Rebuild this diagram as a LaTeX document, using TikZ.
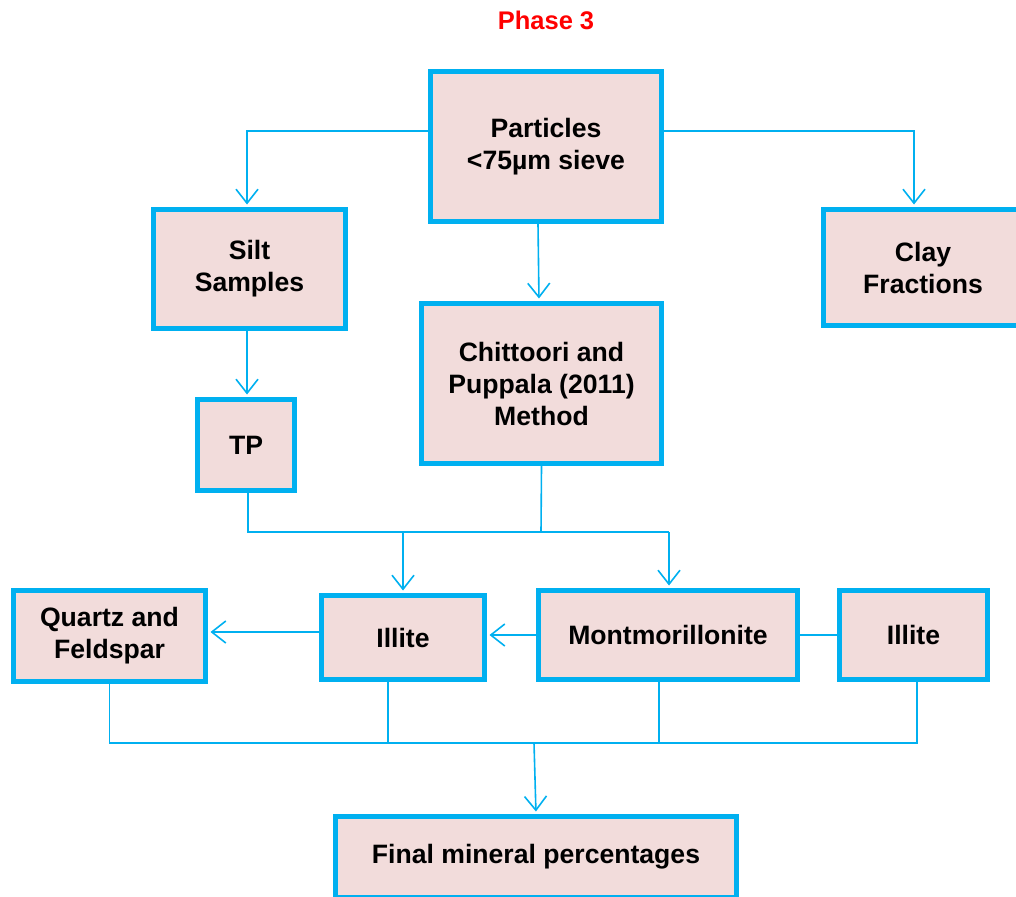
\documentclass[tikz,border=0pt]{standalone}
\usepackage{fontspec}
\setmainfont{Liberation Sans}
\usetikzlibrary{arrows.meta}
\definecolor{flowline}{RGB}{0,176,240}
\definecolor{boxfill}{RGB}{242,220,219}
\begin{document}
\begin{tikzpicture}[x=1pt,y=1pt,
  box/.style={draw=flowline, line width=5pt, fill=boxfill, inner sep=0pt,
    align=center, font=\fontsize{26.6}{32}\selectfont\bfseries},
  link/.style={draw=flowline, line width=1.6pt},
  arr/.style={link, -{Straight Barb[length=14pt,width=22pt,line width=1.6pt]}, shorten >=2.5pt}]
\useasboundingbox (0,0) rectangle (1016,-896);
\clip (0,0) rectangle (1016,-896);

% title
\node[text=red, font=\fontsize{25.5}{30}\selectfont\bfseries] (title) at (546,-20) {Phase 3};

% boxes
\node[box, minimum width=231, minimum height=150] (part) at (546,-146.5) {Particles\\<75µm sieve};
\node[box, minimum width=192, minimum height=119] (silt) at (249.5,-269) {Silt\\Samples};
\node[box, minimum width=199, minimum height=116] (clay) at (923,-267.5) {Clay\\Fractions};
\node[box, minimum width=240, minimum height=160] (chit) at (541.5,-383.5) {Chittoori and\\Puppala (2011)\\Method};
\node[box, minimum width=97, minimum height=91] (tp) at (246,-445) {TP};
\node[box, minimum width=192, minimum height=91] (quartz) at (109.5,-636) {Quartz and\\Feldspar};
\node[box, minimum width=163, minimum height=84] (ill1) at (403,-637.5) {Illite};
\node[box, minimum width=259, minimum height=89] (mont) at (668,-635) {Montmorillonite};
\node[box, minimum width=148, minimum height=89] (ill2) at (913.5,-635) {Illite};
\node[box, minimum width=401, minimum height=81] (final) at (536,-857) {Final mineral percentages};

% junction points
\coordinate (hub) at (541,-532);
\coordinate (bus) at (534,-743);

% from the sieve
\draw[arr] ([yshift=15.5]part.west) -| ([xshift=-2.5]silt.north);
\draw[arr] ([yshift=15.5]part.east) -| ([xshift=-9]clay.north);
\draw[arr] ([xshift=-8]part.south) -- ([xshift=-2.5]chit.north);
\draw[arr] ([xshift=-2.5]silt.south) -- ([xshift=1]tp.north);

% TP and method into the mineral boxes
\draw[link] ([xshift=2]tp.south) |- ([xshift=1]mont.north |- hub);
\draw[link] (chit.south) -- (hub);
\draw[arr] (ill1.north |- hub) -- (ill1.north);
\draw[arr] ([xshift=1]mont.north |- hub) -- ([xshift=1]mont.north);

% along the mineral row
\draw[arr] (mont.west) -- (mont.west -| ill1.east);
\draw[arr] ([yshift=5.5]ill1.west) -- ([yshift=5.5]ill1.west -| quartz.east);
\draw[link] (ill2.west) -- (ill2.west -| mont.east);

% collecting bus
\draw[link] (quartz.south) |- ([xshift=3.5]ill2.south |- bus) -- ([xshift=3.5]ill2.south);
\draw[link] ([xshift=-15]ill1.south) -- ([xshift=-15]ill1.south |- bus);
\draw[link] ([xshift=-9]mont.south) -- ([xshift=-9]mont.south |- bus);
\draw[arr] (bus) -- (final.north);
\end{tikzpicture}
\end{document}
